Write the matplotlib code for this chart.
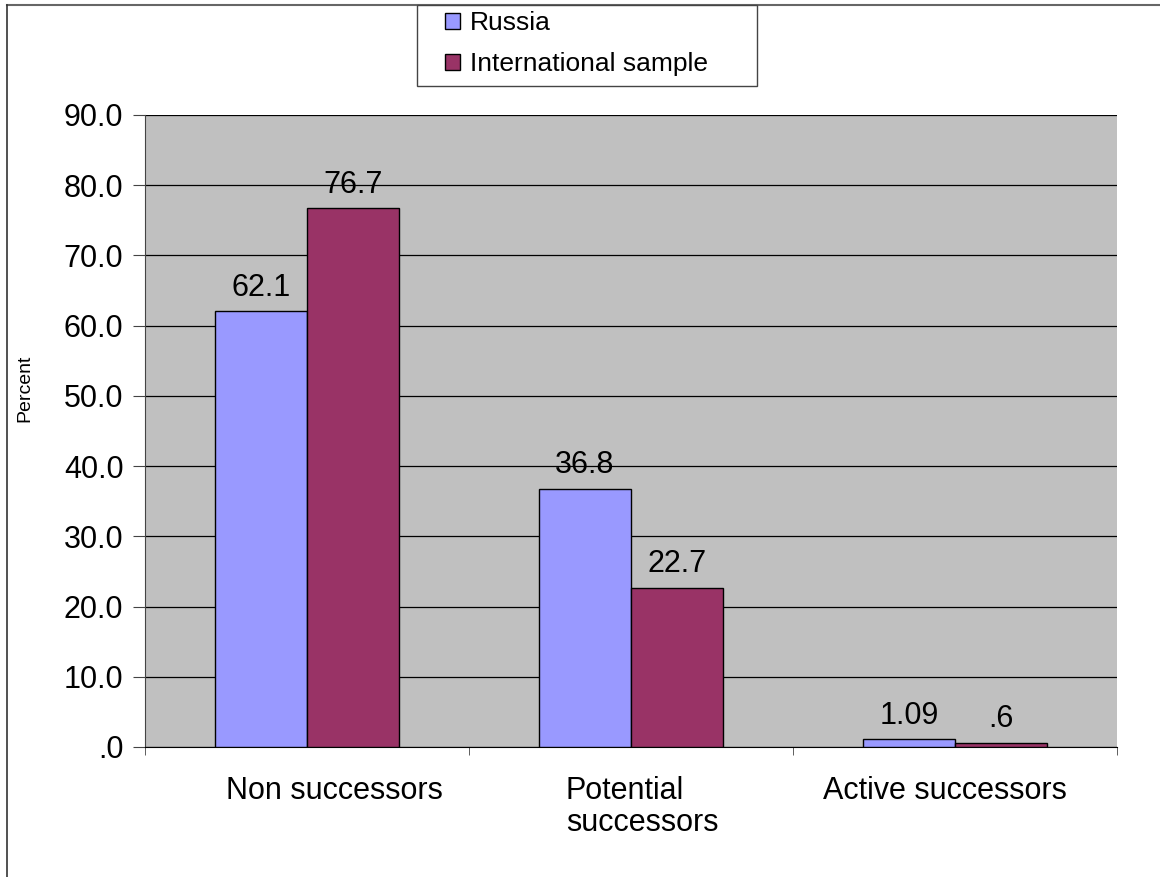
import matplotlib.pyplot as plt
import matplotlib.transforms as mtransforms
import numpy as np
from matplotlib.lines import Line2D
from matplotlib.patches import Patch, Rectangle

plt.rcParams['font.family'] = ['Liberation Sans', 'DejaVu Sans']

categories = ['Non successors', 'Potential\nsuccessors', 'Active successors']
russia = [62.1, 36.8, 1.09]
intl = [76.7, 22.7, 0.6]
russia_labels = ['62.1', '36.8', '1.09']
intl_labels = ['76.7', '22.7', '.6']
series_names = ['Russia', 'International sample']
yticks = [0, 10, 20, 30, 40, 50, 60, 70, 80, 90]

c_rus = '#9999FF'
c_int = '#993366'

fig = plt.figure(figsize=(11.6, 8.77), dpi=100)
ax = fig.add_axes([145/1160, 1 - 747/877, 972/1160, 632/877])
ax.set_facecolor('#C0C0C0')

x = np.arange(len(categories))
w = 0.285
b1 = ax.bar(x - w/2, russia, w, color=c_rus, edgecolor='black', linewidth=1, zorder=3)
b2 = ax.bar(x + w/2, intl, w, color=c_int, edgecolor='black', linewidth=1, zorder=3)

for bars, labs in ((b1, russia_labels), (b2, intl_labels)):
    for r, lab in zip(bars, labs):
        ax.annotate(lab, (r.get_x() + r.get_width()/2, r.get_height()),
                    xytext=(0, 6), textcoords='offset points',
                    ha='center', va='bottom', fontsize=22)

ax.set_xlim(-0.5, 2.5)
ax.set_ylim(0, 90)
ax.set_yticks(yticks)
ax.set_yticklabels(['.0'] + ['%.1f' % v for v in yticks[1:]], fontsize=22)
ax.yaxis.grid(True, color='black', linewidth=0.9, zorder=0)
ax.set_axisbelow(True)

ax.set_xticks(x)
ax.set_xticklabels(categories, fontsize=22, multialignment='left', linespacing=1.1)
ax.tick_params(axis='x', which='major', length=0, pad=21)
ax.set_xticks([-0.5, 0.5, 1.5, 2.5], minor=True)
ax.tick_params(axis='x', which='minor', length=6, color='#444444')
ax.tick_params(axis='y', length=8.5, pad=7, color='#444444')

# Excel-like placement of category labels (pixel nudges)
nudges = [27, 11, -10]
for lab, dx in zip(ax.get_xticklabels(), nudges):
    lab.set_transform(lab.get_transform() + mtransforms.ScaledTranslation(dx/100, 0, fig.dpi_scale_trans))

for s in ['top', 'right']:
    ax.spines[s].set_visible(False)
ax.spines['left'].set_color('#444444')
ax.spines['bottom'].set_color('black')

fig.text(25/1160, 1 - 388/877, 'Percent', rotation=90, ha='center', va='center', fontsize=14)

# figure border lines (top and left)
fig.add_artist(Line2D([7/1160, 1], [1 - 5/877, 1 - 5/877], color='#666666', linewidth=1.5))
fig.add_artist(Line2D([7/1160, 7/1160], [0, 1 - 5/877], color='#333333', linewidth=1.2))

# legend box
fig.add_artist(Rectangle((417/1160, 1 - 86/877), 340/1160, 81/877, transform=fig.transFigure,
                         facecolor='white', edgecolor='#444444', linewidth=1, zorder=4))
handles = [Patch(facecolor=c_rus, edgecolor='black'), Patch(facecolor=c_int, edgecolor='black')]
leg = fig.legend(handles, series_names, loc='upper left',
                 bbox_to_anchor=(445/1160, 1 - 11/877), fontsize=19,
                 frameon=False, handlelength=0.57, handleheight=0.57, handletextpad=0.38,
                 borderpad=0, labelspacing=0.65, borderaxespad=0)
leg.set_zorder(5)

fig.savefig('out.png', dpi=100)
